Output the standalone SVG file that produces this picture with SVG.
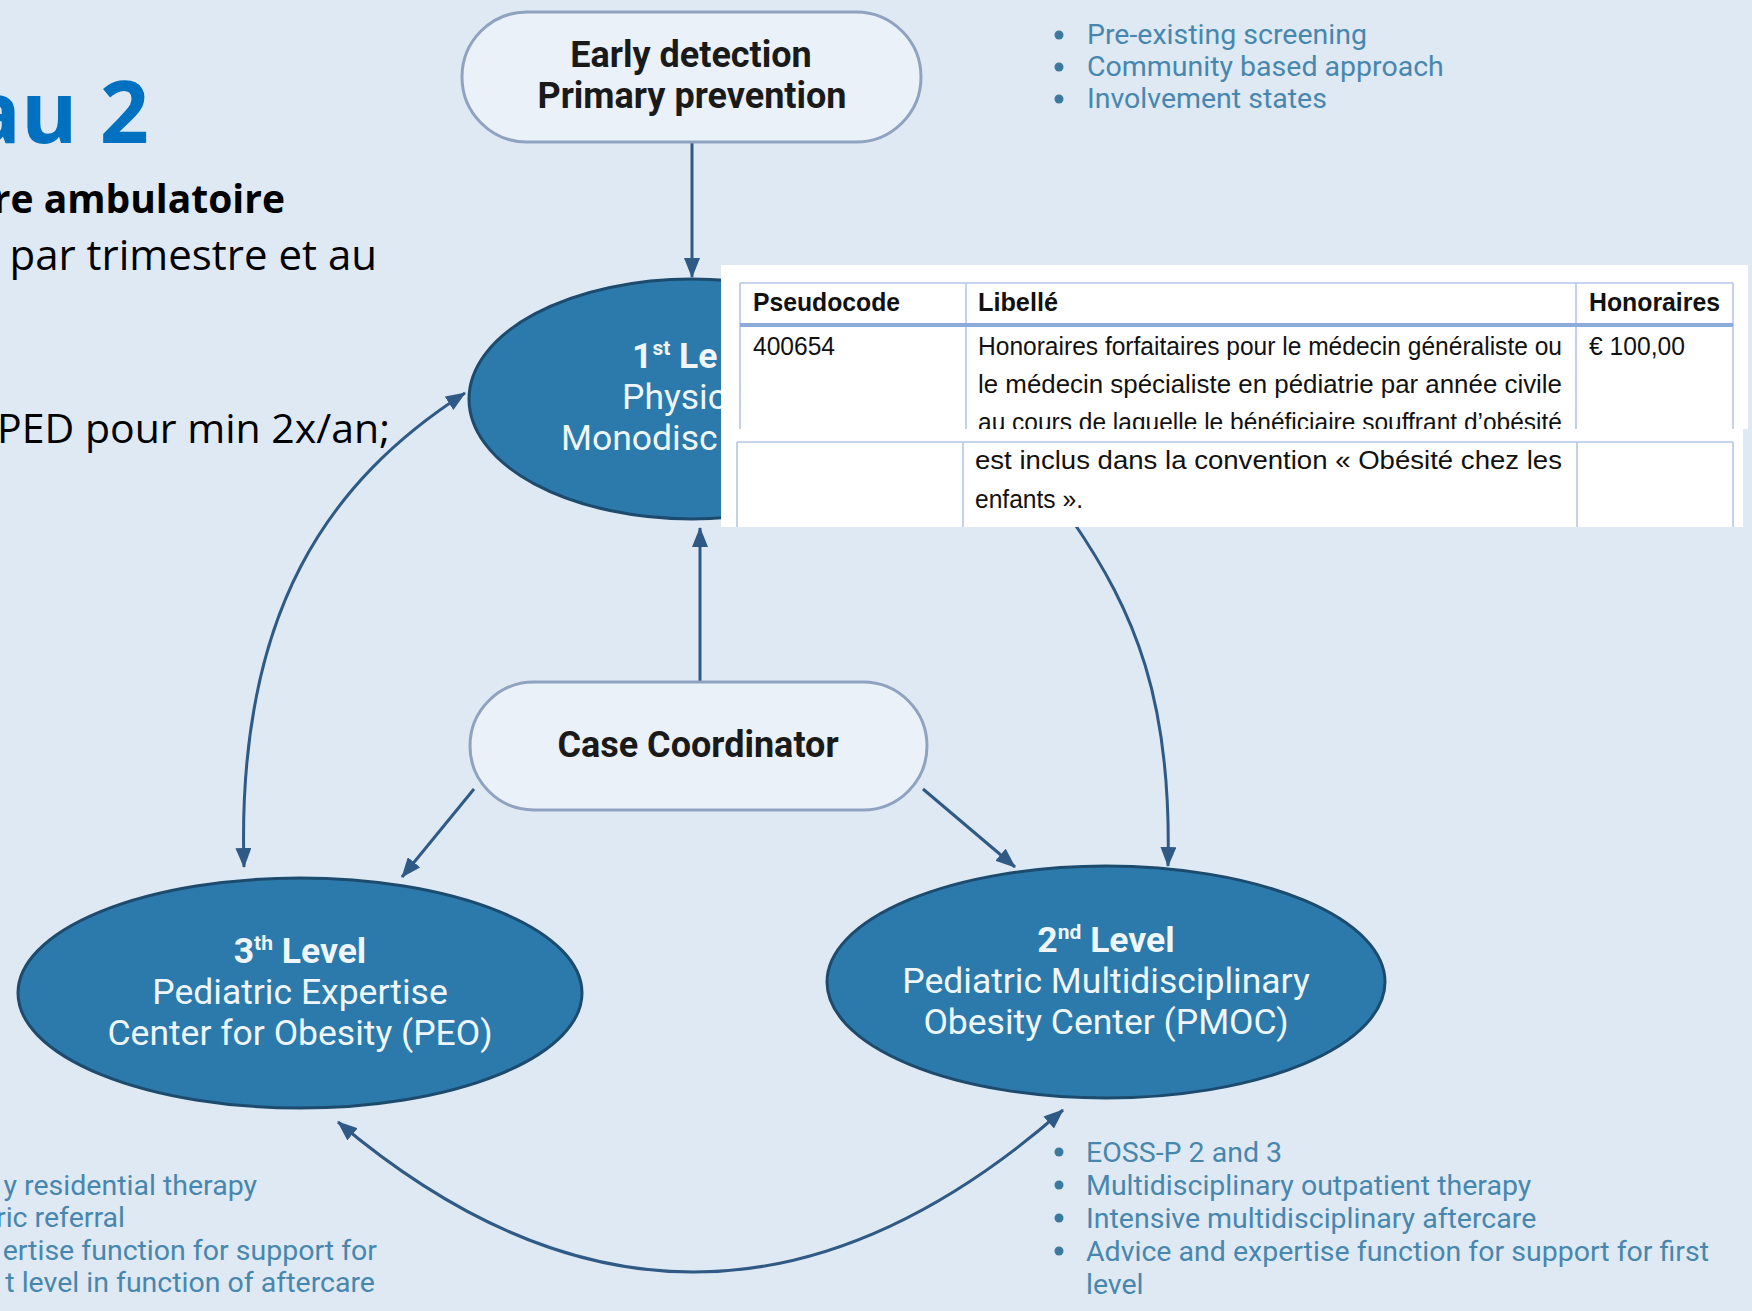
<svg xmlns="http://www.w3.org/2000/svg" width="1752" height="1311" viewBox="0 0 1752 1311">
  <style>
    .slide-title { font-family: "Open Sans", "Liberation Sans", sans-serif; font-weight: 700; fill: #0070c0; }
    .slide-bold { font-family: "Open Sans", "Liberation Sans", sans-serif; font-weight: 700; fill: #000; }
    .slide-text { font-family: "Open Sans", "Liberation Sans", sans-serif; fill: #000; }
    .pill { fill: #eaf1f9; stroke: #8fa3c0; stroke-width: 3; }
    .pill-text { font-family: Roboto, "Liberation Sans", sans-serif; font-weight: 700; font-size: 36px; fill: #1a1a1a; text-anchor: middle; }
    .level { fill: #2b7aab; stroke: #1d4b6e; stroke-width: 3; }
    .level-text { font-family: Roboto, "Liberation Sans", sans-serif; font-size: 35.5px; fill: #eef6fb; }
    .level-head { font-weight: 700; }
    .conn { fill: none; stroke: #2f5a85; stroke-width: 3; stroke-linecap: butt; }
    .note { font-family: Roboto, "Liberation Sans", sans-serif; font-size: 28.5px; fill: #4787ae; }
    .dot { fill: #3a7a9e; }
    .grid { stroke: #b4c6e7; stroke-width: 1.6; fill: none; }
    .grid-head { stroke: #8eaadb; stroke-width: 4; }
    .cell { font-family: "Liberation Sans", Arial, sans-serif; font-size: 25.5px; fill: #111; }
    .cell-head { font-weight: 700; }
  </style>
  <defs>
    <marker id="arrow" viewBox="0 0 20 16" refX="19" refY="8" markerWidth="20" markerHeight="16" markerUnits="userSpaceOnUse" orient="auto-start-reverse">
      <path d="M0 0 L20 8 L0 16 Z" fill="#2f5a85"/>
    </marker>
    <clipPath id="table-top-clip">
      <rect x="721" y="265" width="1027" height="164"/>
    </clipPath>
  </defs>

  <!-- page background -->
  <rect x="0" y="0" width="1752" height="1311" fill="#dfe9f3"/>

  <!-- slide text on the left edge -->
  <g id="slide-text">
    <text class="slide-title" x="149" y="143" font-size="86" text-anchor="end">au 2</text>
    <text class="slide-bold" x="285" y="213" font-size="39" text-anchor="end">re ambulatoire</text>
    <text class="slide-text" x="377" y="270" font-size="42" text-anchor="end">par trimestre et au</text>
    <text class="slide-text" x="390" y="443" font-size="41" text-anchor="end">PED pour min 2x/an;</text>
  </g>

  <!-- connectors -->
  <g id="connectors">
    <path class="conn" d="M692 143 L692 277" marker-end="url(#arrow)"/>
    <path class="conn" d="M700 682 L700 528" marker-end="url(#arrow)"/>
    <path class="conn" d="M474 789 L402 877" marker-end="url(#arrow)"/>
    <path class="conn" d="M923 789 L1015 867" marker-end="url(#arrow)"/>
    <path class="conn" d="M465 393 C 330 480, 236 610, 244 867" marker-start="url(#arrow)" marker-end="url(#arrow)"/>
    <path class="conn" d="M1072 520 C 1135 612, 1172 700, 1168 866" marker-end="url(#arrow)"/>
    <path class="conn" d="M338 1122 Q 700 1428 1063 1110" marker-start="url(#arrow)" marker-end="url(#arrow)"/>
  </g>

  <!-- Early detection -->
  <g id="node-early-detection">
    <rect class="pill" x="462" y="12" width="459" height="130" rx="65"/>
    <text class="pill-text" x="691" y="67">Early detection</text>
    <text class="pill-text" x="692" y="108">Primary prevention</text>
  </g>

  <!-- Case Coordinator -->
  <g id="node-case-coordinator">
    <rect class="pill" x="470" y="682" width="457" height="128" rx="64"/>
    <text class="pill-text" x="698" y="757">Case Coordinator</text>
  </g>

  <!-- 1st level -->
  <g id="node-level-1">
    <ellipse class="level" cx="692" cy="399" rx="223" ry="120"/>
    <text class="level-text level-head" x="632" y="368">1<tspan font-size="21" dy="-13">st</tspan><tspan dy="13"> Le</tspan></text>
    <text class="level-text" x="622" y="409">Physic</text>
    <text class="level-text" x="561" y="450">Monodisc</text>
  </g>

  <!-- 3th level -->
  <g id="node-level-3">
    <ellipse class="level" cx="300" cy="993" rx="282" ry="115"/>
    <text class="level-text level-head" x="300" y="963" text-anchor="middle">3<tspan font-size="21" dy="-13">th</tspan><tspan dy="13"> Level</tspan></text>
    <text class="level-text" x="300" y="1004" text-anchor="middle">Pediatric Expertise</text>
    <text class="level-text" x="300" y="1045" text-anchor="middle">Center for Obesity (PEO)</text>
  </g>

  <!-- 2nd level -->
  <g id="node-level-2">
    <ellipse class="level" cx="1106" cy="982" rx="279" ry="116"/>
    <text class="level-text level-head" x="1106" y="952" text-anchor="middle">2<tspan font-size="21" dy="-13">nd</tspan><tspan dy="13"> Level</tspan></text>
    <text class="level-text" x="1106" y="993" text-anchor="middle">Pediatric Multidisciplinary</text>
    <text class="level-text" x="1106" y="1034" text-anchor="middle">Obesity Center (PMOC)</text>
  </g>

  <!-- notes beside the levels -->
  <g id="notes-early-detection">
    <circle class="dot" cx="1059" cy="35" r="4.5"/>
    <circle class="dot" cx="1059" cy="67" r="4.5"/>
    <circle class="dot" cx="1059" cy="99" r="4.5"/>
    <text class="note" x="1087" y="44">Pre-existing screening</text>
    <text class="note" x="1087" y="76">Community based approach</text>
    <text class="note" x="1087" y="108">Involvement states</text>
  </g>

  <g id="notes-level-2">
    <circle class="dot" cx="1059" cy="1152" r="4.5"/>
    <circle class="dot" cx="1059" cy="1185" r="4.5"/>
    <circle class="dot" cx="1059" cy="1218" r="4.5"/>
    <circle class="dot" cx="1059" cy="1251" r="4.5"/>
    <text class="note" x="1086" y="1162">EOSS-P 2 and 3</text>
    <text class="note" x="1086" y="1195">Multidisciplinary outpatient therapy</text>
    <text class="note" x="1086" y="1228">Intensive multidisciplinary aftercare</text>
    <text class="note" x="1086" y="1261">Advice and expertise function for support for first</text>
    <text class="note" x="1086" y="1294">level</text>
  </g>

  <g id="notes-level-3">
    <text class="note" x="257" y="1195" text-anchor="end">y residential therapy</text>
    <text class="note" x="125" y="1227" text-anchor="end">ric referral</text>
    <text class="note" x="377" y="1260" text-anchor="end">ertise function for support for</text>
    <text class="note" x="375" y="1292" text-anchor="end">t level in function of aftercare</text>
  </g>

  <!-- fee table, upper part -->
  <g id="fee-table-upper">
    <rect x="721" y="265" width="1027" height="164" fill="#fff"/>
    <g clip-path="url(#table-top-clip)">
      <line class="grid" x1="740" y1="283" x2="1733" y2="283"/>
      <line class="grid" x1="740" y1="283" x2="740" y2="430"/>
      <line class="grid" x1="966" y1="283" x2="966" y2="430"/>
      <line class="grid" x1="1576" y1="283" x2="1576" y2="430"/>
      <line class="grid" x1="1733" y1="283" x2="1733" y2="430"/>
      <line class="grid-head" x1="740" y1="325" x2="1733" y2="325"/>
      <text class="cell cell-head" x="753" y="311" textLength="147" lengthAdjust="spacingAndGlyphs">Pseudocode</text>
      <text class="cell cell-head" x="978" y="311" textLength="80" lengthAdjust="spacingAndGlyphs">Libellé</text>
      <text class="cell cell-head" x="1589" y="311" textLength="131" lengthAdjust="spacingAndGlyphs">Honoraires</text>
      <text class="cell" x="753" y="355" textLength="82" lengthAdjust="spacingAndGlyphs">400654</text>
      <text class="cell" x="1589" y="355" textLength="96" lengthAdjust="spacingAndGlyphs">€ 100,00</text>
      <text class="cell" x="978" y="355" textLength="584" lengthAdjust="spacingAndGlyphs">Honoraires forfaitaires pour le médecin généraliste ou</text>
      <text class="cell" x="978" y="393" textLength="584" lengthAdjust="spacingAndGlyphs">le médecin spécialiste en pédiatrie par année civile</text>
      <text class="cell" x="978" y="431" textLength="584" lengthAdjust="spacingAndGlyphs">au cours de laquelle le bénéficiaire souffrant d’obésité</text>
    </g>
  </g>

  <!-- fee table, lower part -->
  <g id="fee-table-lower">
    <rect x="721" y="429" width="1022" height="98" fill="#fff"/>
    <line class="grid" x1="737" y1="442" x2="1733" y2="442"/>
    <line class="grid" x1="737" y1="442" x2="737" y2="527"/>
    <line class="grid" x1="963" y1="442" x2="963" y2="527"/>
    <line class="grid" x1="1577" y1="442" x2="1577" y2="527"/>
    <line class="grid" x1="1733" y1="442" x2="1733" y2="527"/>
    <text class="cell" x="975" y="469" textLength="587" lengthAdjust="spacingAndGlyphs">est inclus dans la convention « Obésité chez les</text>
    <text class="cell" x="975" y="508" textLength="108" lengthAdjust="spacingAndGlyphs">enfants ».</text>
  </g>
</svg>
